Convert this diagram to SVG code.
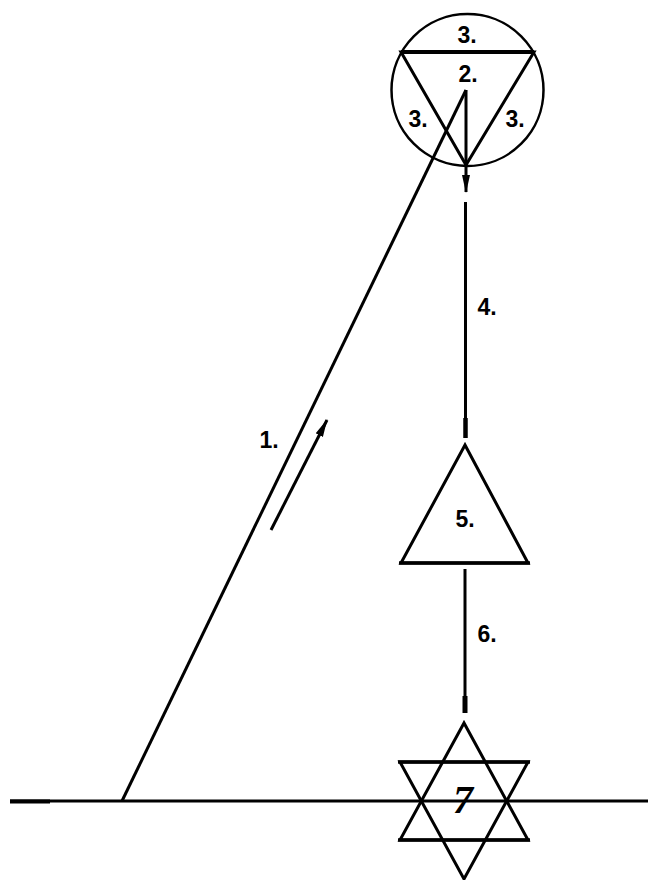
<svg xmlns="http://www.w3.org/2000/svg" width="648" height="880" viewBox="0 0 648 880">
<style>
.ln{stroke:#000;stroke-width:3;fill:none;stroke-linecap:butt}
.sh{stroke:#000;stroke-width:3;fill:none;stroke-linejoin:miter}
.lb{font-family:"Liberation Sans",Arial,sans-serif;font-weight:bold;font-size:23px;fill:#000;text-anchor:middle}
</style>
<defs>
<marker id="ah" markerWidth="18" markerHeight="10" refX="17" refY="5" orient="auto" markerUnits="userSpaceOnUse" viewBox="0 0 18 10">
<path d="M0,1 L18,5 L0,9 Z" fill="#000"/>
</marker>
</defs>
<rect width="648" height="880" fill="#fff"/>
<g id="node-circle">
<circle cx="467.5" cy="90" r="76" fill="none" stroke="#000" stroke-width="2.5"/>
<polygon class="sh" points="401,52 534,52 466,165"/>
<line x1="401" y1="52" x2="534" y2="52" stroke="#000" stroke-width="4"/>
<text class="lb" x="467" y="43">3.</text>
<text class="lb" x="468" y="82">2.</text>
<text class="lb" x="418" y="127">3.</text>
<text class="lb" x="515" y="127">3.</text>
</g>
<g id="node-triangle5">
<polygon class="sh" points="465,445 401,563 528,563"/>
<line x1="399" y1="563" x2="530" y2="563" stroke="#000" stroke-width="3.5"/>
<text class="lb" x="465" y="527">5.</text>
</g>
<g id="node-star7">
<polygon class="sh" points="464,723 400,840 528,840"/>
<polygon class="sh" points="400,762 528,762 464,879"/>
<line x1="398" y1="762" x2="530" y2="762" stroke="#000" stroke-width="3.5"/>
<line x1="398" y1="840" x2="530" y2="840" stroke="#000" stroke-width="3.5"/>
<text x="463" y="813" font-family="'Liberation Serif',serif" font-style="italic" font-weight="bold" font-size="40" text-anchor="middle" fill="#000">7</text>
</g>
<g id="ground">
<line x1="10" y1="801" x2="648" y2="801" class="ln"/>
<line x1="10" y1="801.5" x2="50" y2="801.5" stroke="#000" stroke-width="4"/>
</g>
<g id="connectors">
<line class="ln" x1="466" y1="90" x2="122" y2="801"/>
<line class="ln" x1="466" y1="90" x2="466" y2="192" marker-end="url(#ah)"/>
<line class="ln" x1="465.5" y1="202" x2="465.5" y2="438"/>
<line x1="465.5" y1="418" x2="465.5" y2="438" stroke="#000" stroke-width="4.5"/>
<line class="ln" x1="465" y1="569" x2="465" y2="712"/>
<line x1="465" y1="696" x2="465" y2="713" stroke="#000" stroke-width="5"/>
<line class="ln" x1="271" y1="530" x2="327" y2="420" marker-end="url(#ah)"/>
<text class="lb" x="487" y="315">4.</text>
<text class="lb" x="487" y="642">6.</text>
<text class="lb" x="269" y="448">1.</text>
</g>
</svg>
